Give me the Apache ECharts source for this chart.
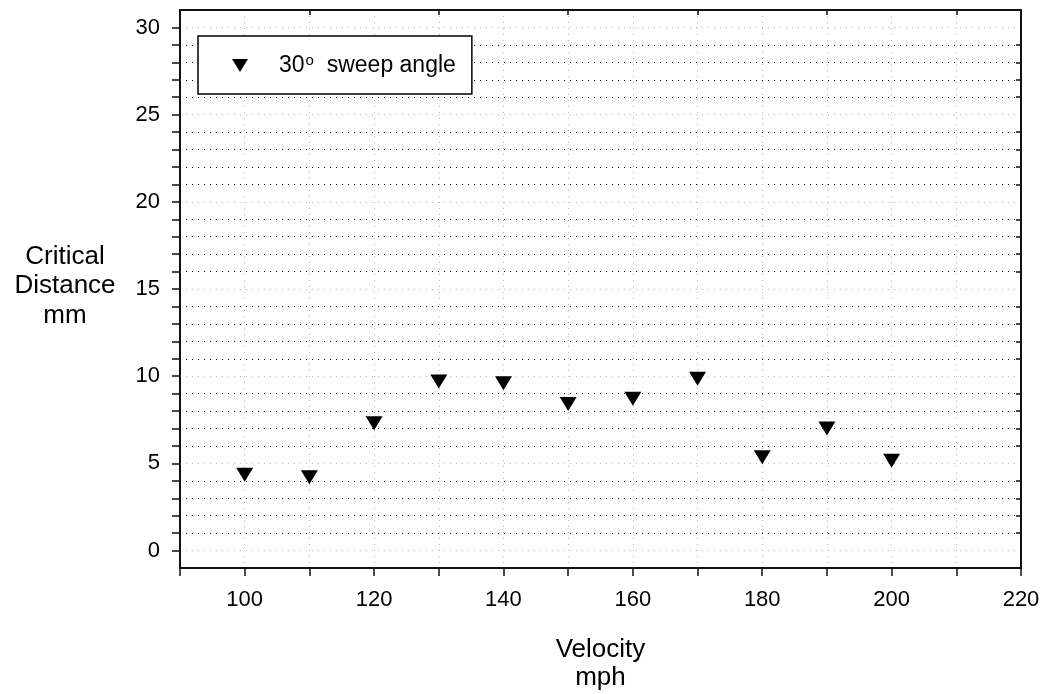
<!DOCTYPE html>
<html>
<head>
<meta charset="utf-8">
<script src="https://cdn.jsdelivr.net/npm/echarts@6/dist/echarts.min.js"></script>
<style>
html,body{margin:0;padding:0;background:#fff;}
#chart{width:1045px;height:694px;}
</style>
</head>
<body>
<div id="chart"></div>
<script>
// Data
const velocity = [100, 110, 120, 130, 140, 150, 160, 170, 180, 190, 200];
const criticalDistance = [4.35, 4.2, 7.3, 9.7, 9.6, 8.4, 8.7, 9.85, 5.35, 7.0, 5.15];
const seriesName = '30o sweep angle';
const yTickValues = [];
for (let v = -1; v <= 31; v++) yTickValues.push(String(v));
const xLabelStep = 20;
const yLabelStep = 5;

const FONT = 'Liberation Sans, Arial, sans-serif';
const tri = 'path://M0,0L16,0L8,13Z';
const gray = '#b8b8b8';

const chart = echarts.init(document.getElementById('chart'));
chart.setOption({
  animation: false,
  backgroundColor: '#fff',
  grid: { left: 180, right: 24, top: 10, bottom: 126, containLabel: false },
  xAxis: [
    {
      type: 'value', position: 'bottom', min: 90, max: 220, interval: 10,
      axisLine: { show: true, onZero: false, lineStyle: { color: '#111', width: 2 } },
      axisTick: { show: true, inside: false, length: 8, lineStyle: { color: '#111', width: 1.5 } },
      axisLabel: { show: true, margin: 21, color: '#000', fontSize: 22, fontFamily: FONT,
        formatter: v => (v % xLabelStep === 0 ? String(v) : '') },
      splitLine: { show: true, showMinLine: false, showMaxLine: false,
        lineStyle: { color: gray, width: 1, type: [1, 5] } }
    },
    {
      type: 'value', position: 'top', min: 90, max: 220, interval: 20,
      axisLine: { show: true, onZero: false, lineStyle: { color: '#111', width: 2 } },
      axisTick: { show: true, inside: true, length: 5, lineStyle: { color: '#111', width: 1.5 } },
      axisLabel: { show: false },
      splitLine: { show: false }
    }
  ],
  yAxis: [
    {
      type: 'value', min: -1, max: 31, interval: 1, position: 'left',
      axisLine: { show: false }, axisTick: { show: false }, axisLabel: { show: false },
      splitLine: { show: true, showMinLine: false, showMaxLine: false,
        lineStyle: { color: [gray, '#000', '#000', '#000', '#000'], width: 1, type: [1, 5] } }
    },
    {
      type: 'category', data: yTickValues, boundaryGap: false, position: 'left',
      axisLine: { show: true, onZero: false, lineStyle: { color: '#111', width: 2 } },
      axisTick: { show: true, inside: false, length: 8, lineStyle: { color: '#111', width: 1.5 },
        interval: (i, v) => i > 0 && i < yTickValues.length - 1 },
      axisLabel: { show: true, margin: 20, color: '#000', fontSize: 22, fontFamily: FONT,
        interval: (i, v) => Number(v) >= 0 && Number(v) % yLabelStep === 0 },
      splitLine: { show: false }
    },
    {
      type: 'category', data: yTickValues, boundaryGap: false, position: 'right',
      axisLine: { show: true, onZero: false, lineStyle: { color: '#111', width: 2 } },
      axisTick: { show: true, inside: true, length: 5, lineStyle: { color: '#111', width: 1.5 },
        interval: (i, v) => i > 0 && i < yTickValues.length - 1 && Number(v) % yLabelStep !== 0 },
      axisLabel: { show: false },
      splitLine: { show: false }
    }
  ],
  legend: {
    show: true, left: 198, top: 36, orient: 'vertical',
    backgroundColor: '#fff', borderColor: '#000', borderWidth: 1.5, borderRadius: 0,
    padding: [17, 16, 17, 34],
    itemWidth: 16, itemHeight: 13,
    itemStyle: { opacity: 1, color: '#000' },
    data: [{ name: seriesName, icon: tri }],
    formatter: () => '{gap|}30{sup|o}{txt|  sweep angle}',
    textStyle: {
      color: '#000', fontSize: 23, fontFamily: FONT,
      rich: {
        gap: { width: 26 },
        sup: { fontSize: 15, fontFamily: FONT, color: '#000', verticalAlign: 'top', padding: [0, 0, 10, 1] },
        txt: { fontSize: 23, fontFamily: FONT, color: '#000' }
      }
    }
  },
  graphic: [
    { type: 'text', x: 65, y: 286, silent: true,
      style: { text: 'Critical\nDistance\nmm', x: 0, y: 0, align: 'center', verticalAlign: 'middle',
        fontSize: 26, fontFamily: FONT, lineHeight: 29.5, fill: '#000' } },
    { type: 'text', x: 600.5, y: 664, silent: true,
      style: { text: 'Velocity\nmph', x: 0, y: 0, align: 'center', verticalAlign: 'middle',
        fontSize: 26, fontFamily: FONT, lineHeight: 28, fill: '#000' } }
  ],
  series: [
    {
      name: seriesName, type: 'scatter', xAxisIndex: 0, yAxisIndex: 0,
      symbol: tri, symbolSize: [17, 14],
      itemStyle: { color: '#000', opacity: 1 },
      data: velocity.map((x, i) => [x, criticalDistance[i]])
    }
  ]
});
</script>
</body>
</html>
